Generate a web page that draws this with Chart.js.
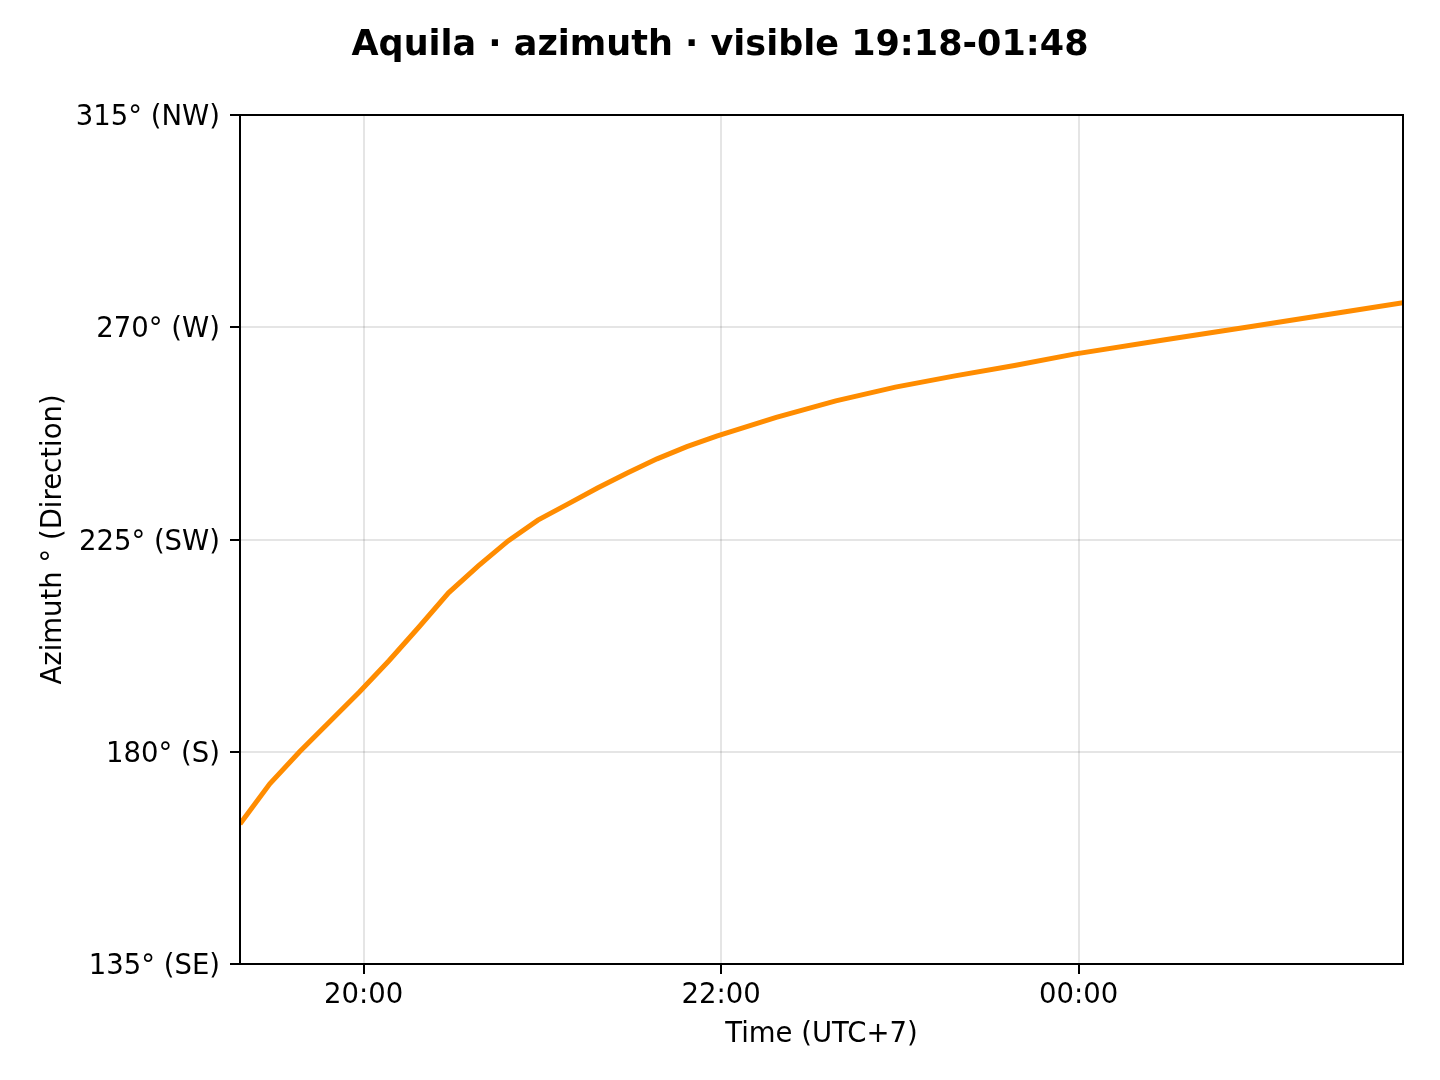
<!DOCTYPE html>
<html>
<head>
<meta charset="utf-8">
<title>Aquila azimuth</title>
<script src="https://cdn.jsdelivr.net/npm/chart.js@4/dist/chart.umd.min.js"></script>
<style>
	html, body { margin: 0; padding: 0; background: #fff; }
	canvas { display: block; }
</style>
</head>
<body>
<canvas id="chart" width="1440" height="1080"></canvas>
<script>
// Data (time as minutes after 00:00 of the first evening)
const timeMin = [1158.5, 1168.5, 1178.5, 1188.5, 1198.5, 1208.5, 1218.5, 1228.5, 1238.5, 1248.5,
	1258.5, 1268.5, 1278.5, 1288.5, 1298.5, 1308.5, 1318.5, 1338.5, 1358.5, 1378.5,
	1398.5, 1418.5, 1438.5, 1468.5, 1498.5, 1528.5, 1548.9];
const azimuthDeg = [164.7, 173.2, 180.0, 186.3, 192.6, 199.3, 206.4, 213.7, 219.4, 224.7,
	229.1, 232.5, 235.9, 239.1, 242.1, 244.7, 246.9, 250.9, 254.4, 257.3,
	259.7, 261.9, 264.3, 267.3, 270.2, 273.2, 275.2];

const xTickValues = [1200, 1320, 1440];
const xTickLabels = ['20:00', '22:00', '00:00'];
const yTickValues = [135, 180, 225, 270, 315];
const yTickLabels = ['135° (SE)', '180° (S)', '225° (SW)', '270° (W)', '315° (NW)'];

const xMin = 1158.5;
const xMax = 1548.9;
const chartTitle = 'Aquila · azimuth · visible 19:18-01:48';

Chart.defaults.font.family = "'DejaVu Sans', sans-serif";
Chart.defaults.color = '#000';

// matplotlib-like frame round the plot area, plus the figure title centred on the canvas
const framePlugin = {
	id: 'frame',
	afterDraw(chart) {
		const { ctx, chartArea: a } = chart;
		ctx.save();
		ctx.strokeStyle = '#000';
		ctx.lineWidth = 2;
		ctx.strokeRect(a.left, a.top, a.right - a.left, a.bottom - a.top);
		ctx.fillStyle = '#000';
		ctx.font = "bold 35px 'DejaVu Sans', sans-serif";
		ctx.textAlign = 'center';
		ctx.textBaseline = 'middle';
		ctx.fillText(chartTitle, chart.width / 2, 46);
		ctx.restore();
	}
};

const gridColor = 'rgba(0,0,0,0.1)';

new Chart(document.getElementById('chart'), {
	type: 'line',
	data: {
		datasets: [{
			label: 'Azimuth',
			data: timeMin.map((t, i) => ({ x: t, y: azimuthDeg[i] })),
			borderColor: '#ff8c00',
			borderWidth: 5,
			pointRadius: 0,
			fill: false,
			tension: 0
		}]
	},
	options: {
		responsive: false,
		devicePixelRatio: 1,
		animation: false,
		layout: { padding: { left: 0, right: 37, top: 115, bottom: 0 } },
		plugins: {
			legend: { display: false },
			tooltip: { enabled: false },
			title: { display: false }
		},
		scales: {
			x: {
				type: 'linear',
				min: xMin,
				max: xMax,
				afterBuildTicks: (scale) => { scale.ticks = xTickValues.map(v => ({ value: v })); },
				afterFit: (scale) => { scale.height = 116; },
				ticks: {
					autoSkip: false,
					maxRotation: 0,
					padding: 5,
					font: { size: 27.5 },
					color: '#000',
					callback: (v) => xTickLabels[xTickValues.indexOf(v)]
				},
				grid: { color: gridColor, lineWidth: 2, tickLength: 10, tickColor: '#000', tickWidth: 2 },
				border: { display: false },
				title: {
					display: true,
					text: 'Time (UTC+7)',
					color: '#000',
					font: { size: 27.5 },
					padding: { top: 0, bottom: 28.5 }
				}
			},
			y: {
				type: 'linear',
				min: 135,
				max: 315,
				afterBuildTicks: (scale) => { scale.ticks = yTickValues.map(v => ({ value: v })); },
				afterFit: (scale) => { scale.width = 240; },
				ticks: {
					padding: 10,
					labelOffset: 3,
					font: { size: 27.5 },
					color: '#000',
					callback: (v) => yTickLabels[yTickValues.indexOf(v)]
				},
				grid: { color: gridColor, lineWidth: 2, tickLength: 10, tickColor: '#000', tickWidth: 2 },
				border: { display: false },
				title: {
					display: true,
					text: 'Azimuth ° (Direction)',
					color: '#000',
					font: { size: 27.5 },
					padding: { top: 37, bottom: 0 }
				}
			}
		}
	},
	plugins: [framePlugin]
});
</script>
</body>
</html>
